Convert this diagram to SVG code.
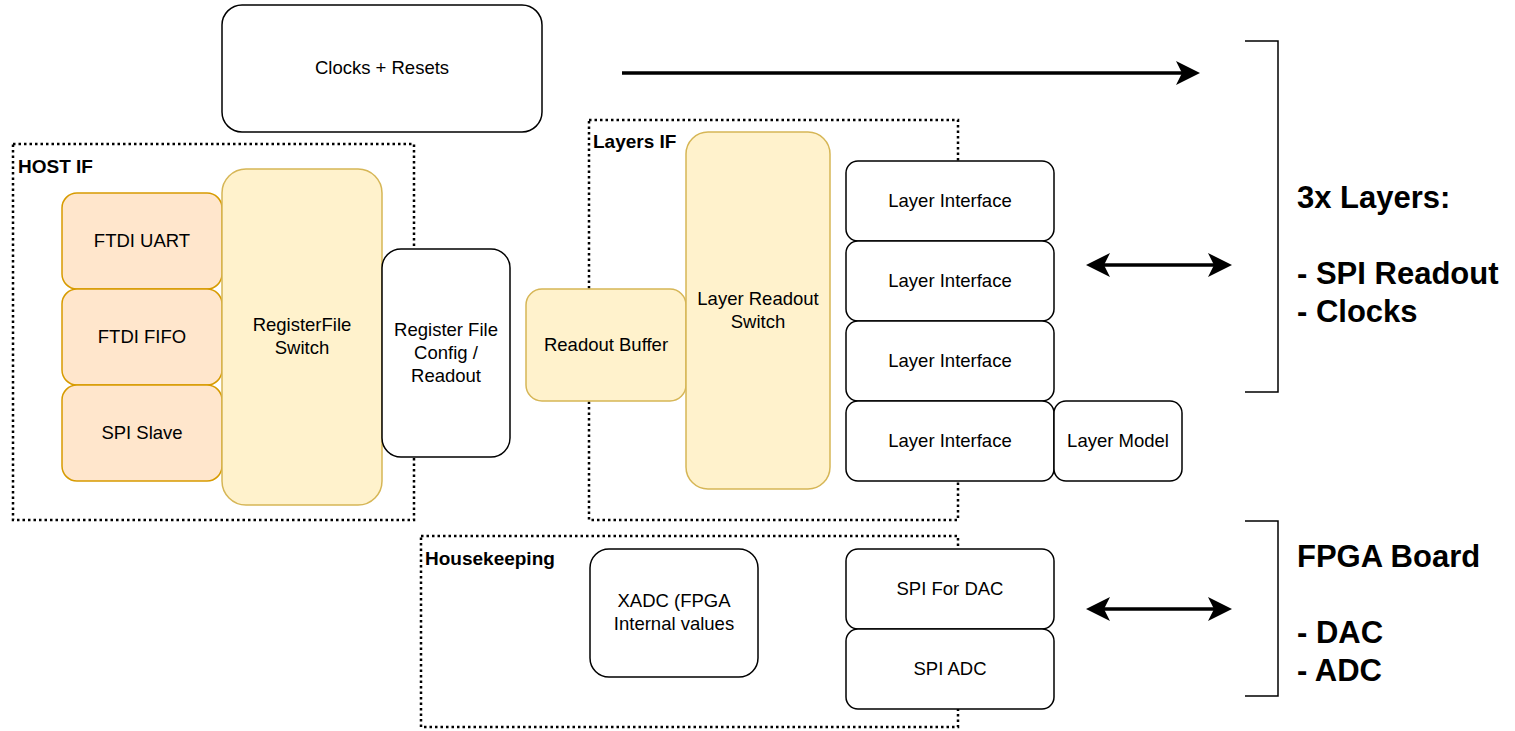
<svg xmlns="http://www.w3.org/2000/svg" width="1515" height="731" viewBox="0 0 1515 731">
<style>
text{font-family:"Liberation Sans",Arial,Helvetica,sans-serif;fill:#000}
.t{font-size:18.5px;text-anchor:middle}
.gl{font-size:19px;font-weight:bold}
.big{font-size:31px;font-weight:bold}
.grp{fill:none;stroke:#000;stroke-width:2.5;stroke-dasharray:2.5 3}
.w{fill:#fff;stroke:#000;stroke-width:1.5}
.o{fill:#ffe6cc;stroke:#d79b00;stroke-width:1.5}
.y{fill:#fff2cc;stroke:#d6b656;stroke-width:1.5}
.br{fill:none;stroke:#000;stroke-width:1.5}
.ar{fill:none;stroke:#000;stroke-width:3.5}
</style>
<defs>
<marker id="ah" viewBox="0 0 24 24" refX="20" refY="12" markerWidth="24" markerHeight="24" markerUnits="userSpaceOnUse" orient="auto-start-reverse">
<path d="M0,0 L24,12 L0,24 L6,12 Z" fill="#000"/>
</marker>
</defs>
<rect width="1515" height="731" fill="#fff"/>

<g id="host-if">
<rect class="grp" x="13" y="144" width="401" height="376"/>
<text class="gl" x="18" y="173">HOST IF</text>
</g>
<g id="layers-if">
<rect class="grp" x="589" y="120" width="369" height="400"/>
<text class="gl" x="593" y="148">Layers IF</text>
</g>
<g id="housekeeping">
<rect class="grp" x="421" y="536" width="537" height="191"/>
<text class="gl" x="425" y="565">Housekeeping</text>
</g>

<g id="clocks-resets">
<rect class="w" x="222" y="5" width="320" height="127" rx="20"/>
<text class="t" x="382" y="74">Clocks + Resets</text>
</g>
<g id="ftdi-uart">
<rect class="o" x="62" y="193" width="160" height="96" rx="15"/>
<text class="t" x="142" y="247">FTDI UART</text>
</g>
<g id="ftdi-fifo">
<rect class="o" x="62" y="289" width="160" height="96" rx="15"/>
<text class="t" x="142" y="343">FTDI FIFO</text>
</g>
<g id="spi-slave">
<rect class="o" x="62" y="385" width="160" height="96" rx="15"/>
<text class="t" x="142" y="439">SPI Slave</text>
</g>
<g id="registerfile-switch">
<rect class="y" x="222" y="169" width="160" height="336" rx="24"/>
<text class="t" x="302" y="331">RegisterFile</text>
<text class="t" x="302" y="354">Switch</text>
</g>
<g id="register-file-config">
<rect class="w" x="382" y="249" width="128" height="208" rx="19"/>
<text class="t" x="446" y="336">Register File</text>
<text class="t" x="446" y="359">Config /</text>
<text class="t" x="446" y="382">Readout</text>
</g>
<g id="readout-buffer">
<rect class="y" x="526" y="289" width="160" height="112" rx="16"/>
<text class="t" x="606" y="351">Readout Buffer</text>
</g>
<g id="layer-readout-switch">
<rect class="y" x="686" y="132" width="144" height="357" rx="22"/>
<text class="t" x="758" y="305">Layer Readout</text>
<text class="t" x="758" y="328">Switch</text>
</g>
<g id="layer-interface-1">
<rect class="w" x="846" y="161" width="208" height="80" rx="12"/>
<text class="t" x="950" y="207">Layer Interface</text>
</g>
<g id="layer-interface-2">
<rect class="w" x="846" y="241" width="208" height="80" rx="12"/>
<text class="t" x="950" y="287">Layer Interface</text>
</g>
<g id="layer-interface-3">
<rect class="w" x="846" y="321" width="208" height="80" rx="12"/>
<text class="t" x="950" y="367">Layer Interface</text>
</g>
<g id="layer-interface-4">
<rect class="w" x="846" y="401" width="208" height="80" rx="12"/>
<text class="t" x="950" y="447">Layer Interface</text>
</g>
<g id="layer-model">
<rect class="w" x="1054" y="401" width="128" height="80" rx="12"/>
<text class="t" x="1118" y="447">Layer Model</text>
</g>
<g id="xadc">
<rect class="w" x="590" y="549" width="168" height="128" rx="19"/>
<text class="t" x="674" y="607">XADC (FPGA</text>
<text class="t" x="674" y="630">Internal values</text>
</g>
<g id="spi-dac">
<rect class="w" x="846" y="549" width="208" height="80" rx="12"/>
<text class="t" x="950" y="595">SPI For DAC</text>
</g>
<g id="spi-adc">
<rect class="w" x="846" y="629" width="208" height="80" rx="12"/>
<text class="t" x="950" y="675">SPI ADC</text>
</g>

<g id="layers-label">
<path class="br" d="M1245,41 H1278 V392 H1245"/>
<text class="big" x="1297" y="208">3x Layers:</text>
<text class="big" x="1297" y="284">- SPI Readout</text>
<text class="big" x="1297" y="322">- Clocks</text>
</g>
<g id="board-label">
<path class="br" d="M1245,521 H1278 V696 H1245"/>
<text class="big" x="1297" y="567">FPGA Board</text>
<text class="big" x="1297" y="643">- DAC</text>
<text class="big" x="1297" y="681">- ADC</text>
</g>

<g id="connectors">
<line class="ar" x1="622" y1="73" x2="1196" y2="73" marker-end="url(#ah)"/>
<line class="ar" x1="1090" y1="265" x2="1228" y2="265" marker-start="url(#ah)" marker-end="url(#ah)"/>
<line class="ar" x1="1090" y1="609" x2="1228" y2="609" marker-start="url(#ah)" marker-end="url(#ah)"/>
</g>
</svg>
